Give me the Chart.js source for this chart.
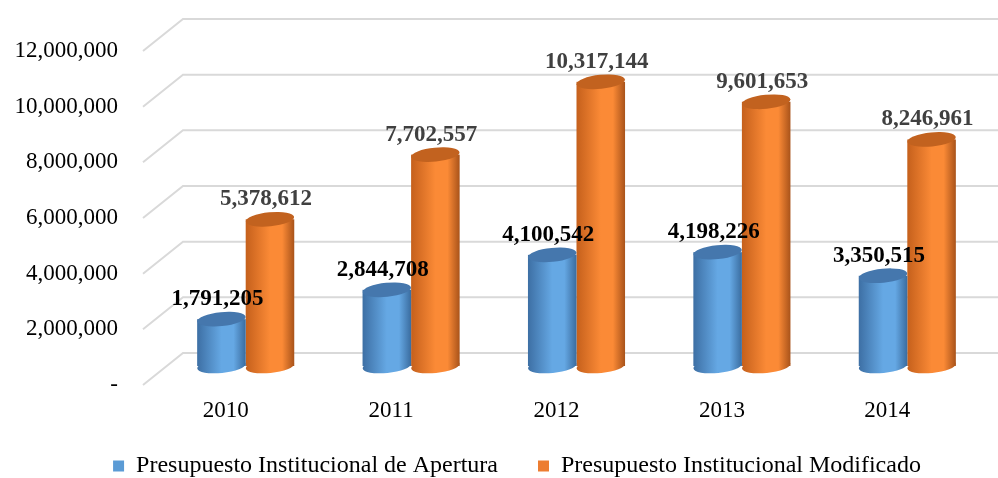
<!DOCTYPE html>
<html>
<head>
<meta charset="utf-8">
<title>Presupuesto Institucional 2010-2014</title>
<script src="https://cdn.jsdelivr.net/npm/chart.js@4.4.1/dist/chart.umd.min.js"></script>
<style>
  html, body { margin: 0; padding: 0; background: #fff; }
  #grafico { display: block; }
</style>
</head>
<body>
<canvas id="grafico" width="998" height="478"></canvas>
<script>
// ============================
// Datos
// ============================
const anios = ["2010", "2011", "2012", "2013", "2014"];
const apertura = [1791205, 2844708, 4100542, 4198226, 3350515];
const modificado = [5378612, 7702557, 10317144, 9601653, 8246961];
const ejeMax = 12000000;
const ejePaso = 2000000;

const FUENTE = "'Liberation Serif', 'Times New Roman', serif";

// desplazamiento de la profundidad (efecto 3D)
const PROF_X = 20;
const PROF_Y = 16;

const formato = v => v.toLocaleString("en-US");

// ============================
// Grilla "3D": diagonal al frente + línea al fondo
// ============================
const grilla3d = {
  id: "grilla3d",
  beforeDatasetsDraw(chart) {
    const { ctx, chartArea, scales } = chart;
    const y = scales.y;
    ctx.save();
    ctx.strokeStyle = "#d9d9d9";
    ctx.lineWidth = 2;
    y.ticks.forEach(t => {
      const py = y.getPixelForValue(t.value);
      ctx.beginPath();
      ctx.moveTo(chartArea.left - PROF_X, py + PROF_Y);
      ctx.lineTo(chartArea.left + PROF_X, py - PROF_Y);
      ctx.lineTo(chart.width, py - PROF_Y);
      ctx.stroke();
    });
    ctx.restore();
  }
};

// ============================
// Cilindros en vez de barras planas
// ============================
const estilos = [
  { izq: "#3d6fa4", luz: "#65a8e4", der: "#3a6c9f", tapa: "#4577ad", texto: "#000000" },
  { izq: "#c5601c", luz: "#fb8a36", der: "#a9531a", tapa: "#c2621f", texto: "#404040" }
];

function dibujarCilindro(ctx, bar, est) {
  const rx = bar.width / 2;
  const ry = 7;
  const giro = -0.1;
  const base = bar.base - 3;
  const x0 = bar.x - rx, x1 = bar.x + rx;

  const grad = ctx.createLinearGradient(x0, 0, x1, 0);
  grad.addColorStop(0, est.izq);
  grad.addColorStop(0.5, est.luz);
  grad.addColorStop(0.75, est.luz);
  grad.addColorStop(1, est.der);

  ctx.fillStyle = grad;
  // base
  ctx.beginPath();
  ctx.ellipse(bar.x, base, rx, ry, giro, 0, Math.PI * 2);
  ctx.fill();
  // cuerpo
  ctx.fillRect(x0, bar.y, bar.width, base - bar.y);
  // tapa
  ctx.beginPath();
  ctx.ellipse(bar.x, bar.y, rx, ry, giro, 0, Math.PI * 2);
  ctx.fillStyle = est.tapa;
  ctx.fill();
}

const cilindros = {
  id: "cilindros",
  beforeDatasetDraw(chart, args) {
    const { ctx } = chart;
    const est = estilos[args.index];
    ctx.save();
    args.meta.data.forEach(bar => dibujarCilindro(ctx, bar, est));
    ctx.restore();
    return false; // no dibujar la barra plana
  },
  afterDatasetsDraw(chart) {
    const { ctx } = chart;
    ctx.save();
    ctx.font = "bold 23px " + FUENTE;
    ctx.textAlign = "center";
    ctx.textBaseline = "middle";
    chart.data.datasets.forEach((ds, i) => {
      ctx.fillStyle = estilos[i].texto;
      chart.getDatasetMeta(i).data.forEach((bar, j) => {
        ctx.fillText(formato(ds.data[j]), bar.x - 4, bar.y - 20);
      });
    });
    ctx.restore();
  }
};

// la leyenda va un poco a la derecha y más arriba de su caja
const moverLeyenda = {
  id: "moverLeyenda",
  afterLayout(chart) {
    const l = chart.legend;
    l.left += 22;
    l.right += 22;
    l.top -= 19;
    l.bottom -= 19;
  }
};

const sinRelleno = s => {
  s.paddingTop = 0;
  s.paddingBottom = 0;
  s.paddingLeft = 0;
  s.paddingRight = 0;
};

// ============================
// Gráfico
// ============================
const ctx = document.getElementById("grafico").getContext("2d");
new Chart(ctx, {
  type: "bar",
  data: {
    labels: anios,
    datasets: [
      { label: "Presupuesto Institucional de Apertura", data: apertura, backgroundColor: "#5b9bd5" },
      { label: "Presupuesto Institucional Modificado", data: modificado, backgroundColor: "#ed7d31" }
    ]
  },
  options: {
    responsive: false,
    animation: false,
    layout: { padding: { left: 0, right: 8, top: 35, bottom: -29 } },
    datasets: { bar: { categoryPercentage: 0.587, barPercentage: 1 } },
    scales: {
      x: {
        grid: { display: false, drawTicks: false },
        border: { display: false },
        ticks: {
          labelOffset: -PROF_X,
          padding: 28,
          color: "#000",
          font: { family: FUENTE, size: 23 }
        },
        afterFit: s => { sinRelleno(s); s.height = 64; }
      },
      y: {
        min: 0,
        max: ejeMax,
        grid: { display: false, drawTicks: false },
        border: { display: false },
        ticks: {
          stepSize: ejePaso,
          labelOffset: PROF_Y,
          padding: 45,
          color: "#000",
          font: { family: FUENTE, size: 23 },
          callback: v => (v === 0 ? "-" : formato(v))
        },
        afterFit: s => { sinRelleno(s); s.width = 163; }
      }
    },
    plugins: {
      legend: {
        position: "bottom",
        labels: {
          boxWidth: 11,
          boxHeight: 11,
          padding: 40,
          color: "#000",
          font: { family: FUENTE, size: 24 }
        }
      },
      tooltip: { enabled: false }
    }
  },
  plugins: [grilla3d, cilindros, moverLeyenda]
});
</script>
</body>
</html>
